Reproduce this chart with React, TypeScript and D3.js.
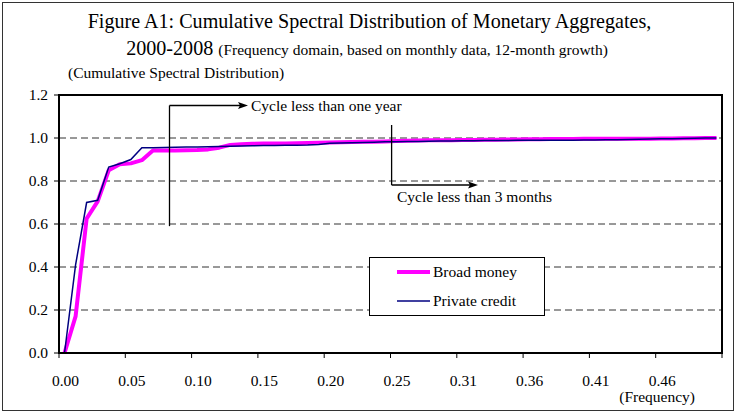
import React from "react";
import * as d3 from "d3";

const tickLabels = ["0.00", "0.05", "0.10", "0.15", "0.20", "0.25", "0.31", "0.36", "0.41", "0.46"];
const yTicks = [0, 0.2, 0.4, 0.6, 0.8, 1.0, 1.2];
const seriesNames = ["Broad money", "Private credit"];

const broadMoney = [
  0, 0.17, 0.625, 0.705, 0.85, 0.878, 0.882, 0.897, 0.942, 0.942,
  0.942, 0.943, 0.944, 0.947, 0.955, 0.968, 0.971, 0.973, 0.974, 0.975,
  0.975, 0.976, 0.977, 0.978, 0.979, 0.98, 0.981, 0.982, 0.983, 0.984,
  0.986, 0.987, 0.988, 0.989, 0.989, 0.99, 0.991, 0.991, 0.992, 0.992,
  0.993, 0.993, 0.994, 0.994, 0.995, 0.995, 0.995, 0.996, 0.996, 0.996,
  0.996, 0.997, 0.997, 0.997, 0.998, 0.998, 0.999, 0.999, 1.0, 1.0,
];

const privateCredit = [
  0, 0.41, 0.7, 0.71, 0.865, 0.88, 0.9, 0.955, 0.955, 0.956,
  0.957, 0.958, 0.958, 0.959, 0.96, 0.962, 0.963, 0.964, 0.965, 0.965,
  0.966, 0.966, 0.967, 0.97, 0.976, 0.977, 0.978, 0.979, 0.98, 0.982,
  0.983, 0.984, 0.984, 0.985, 0.986, 0.986, 0.987, 0.987, 0.988, 0.988,
  0.988, 0.989, 0.989, 0.989, 0.99, 0.99, 0.99, 0.991, 0.991, 0.992,
  0.992, 0.993, 0.994, 0.995, 0.996, 0.997, 0.998, 0.999, 1.0, 1.0,
];

const FONT = "'Liberation Serif', 'Times New Roman', serif";
const FS = 15.5;

export default function App() {
  const W = 736;
  const H = 413;
  const left = 59;
  const right = 722;
  const top = 95;
  const bottom = 353;
  const n = broadMoney.length;
  const perTick = n / tickLabels.length;

  const x = d3.scaleLinear().domain([-0.5, n - 0.5]).range([left, right]);
  const y = d3.scaleLinear().domain([0, 1.2]).range([bottom, top]);

  const line = d3
    .line<number>()
    .x((_, i) => x(i))
    .y((d) => y(d));

  const boundaryTicks = d3.range(0, tickLabels.length + 1).map((k) => x(k * perTick - 0.5));

  const a1x = x(9.5);
  const a2x = x(29.6);

  return (
    <svg
      width={W}
      height={H}
      style={{ position: "absolute", left: 0, top: 0, background: "#fff" }}
      fontFamily={FONT}
    >
      <rect x={2.5} y={2.5} width={731} height={408} fill="#fff" stroke="#333" strokeWidth={1} />

      <text x={369.5} y={28} textAnchor="middle" fontSize={20.1} fill="#000">
        Figure A1: Cumulative Spectral Distribution of Monetary Aggregates,
      </text>
      <text x={367} y={55} textAnchor="middle" fill="#000">
        <tspan fontSize={20.1}>2000-2008 </tspan>
        <tspan fontSize={FS}>(Frequency domain, based on monthly data, 12-month growth)</tspan>
      </text>
      <text x={68} y={78} fontSize={FS} fill="#000">
        (Cumulative Spectral Distribution)
      </text>

      {yTicks
        .filter((t) => t > 0 && t < 1.2)
        .map((t) => (
          <line
            key={t}
            x1={left}
            x2={right}
            y1={y(t)}
            y2={y(t)}
            stroke="#333"
            strokeWidth={1}
            strokeDasharray="7,4"
          />
        ))}

      {yTicks.map((t) => (
        <g key={t}>
          <line x1={left - 5} x2={left} y1={y(t)} y2={y(t)} stroke="#000" strokeWidth={1} />
          <text x={48} y={y(t)} dy="0.35em" textAnchor="end" fontSize={FS} fill="#000">
            {t.toFixed(1)}
          </text>
        </g>
      ))}

      {boundaryTicks.map((bx, k) => (
        <line key={k} x1={bx} x2={bx} y1={bottom} y2={bottom + 5} stroke="#000" strokeWidth={1} />
      ))}
      {tickLabels.map((lab, k) => (
        <text key={lab} x={x(k * perTick) + 1} y={381} dy="0.35em" textAnchor="middle" fontSize={FS} fill="#000">
          {lab}
        </text>
      ))}
      <text x={695} y={402} textAnchor="end" fontSize={FS} fill="#000">
        (Frequency)
      </text>

      <path d={line(broadMoney) || ""} fill="none" stroke="#FF00FF" strokeWidth={4} strokeLinejoin="round" />
      <path d={line(privateCredit) || ""} fill="none" stroke="#000080" strokeWidth={1.5} strokeLinejoin="miter" />

      <rect x={left} y={top} width={right - left} height={bottom - top} fill="none" stroke="#000" strokeWidth={2} />

      <line x1={a1x} x2={a1x} y1={y(0.59)} y2={105.5} stroke="#000" strokeWidth={1.3} />
      <line x1={a1x} x2={242} y1={105.5} y2={105.5} stroke="#000" strokeWidth={1.3} />
      <path d={`M248,105.5 L238,102 L240,105.5 L238,109 Z`} fill="#000" />
      <text x={251} y={105.5} dy="0.35em" fontSize={FS} fill="#000">
        Cycle less than one year
      </text>

      <line x1={a2x} x2={a2x} y1={125} y2={185} stroke="#000" strokeWidth={1.3} />
      <line x1={a2x} x2={472} y1={185} y2={185} stroke="#000" strokeWidth={1.3} />
      <path d={`M478,185 L468,181.5 L470,185 L468,188.5 Z`} fill="#000" />
      <text x={397} y={197} dy="0.35em" fontSize={FS} fill="#000">
        Cycle less than 3 months
      </text>

      <rect x={369.5} y={257.5} width={175} height={58} fill="#fff" stroke="#000" strokeWidth={1} />
      <line x1={397} x2={430} y1={272} y2={272} stroke="#FF00FF" strokeWidth={4} />
      <text x={433} y={272} dy="0.35em" fontSize={FS} fill="#000">
        {seriesNames[0]}
      </text>
      <line x1={397} x2={430} y1={301} y2={301} stroke="#000080" strokeWidth={1.5} />
      <text x={433} y={301} dy="0.35em" fontSize={FS} fill="#000">
        {seriesNames[1]}
      </text>
    </svg>
  );
}
